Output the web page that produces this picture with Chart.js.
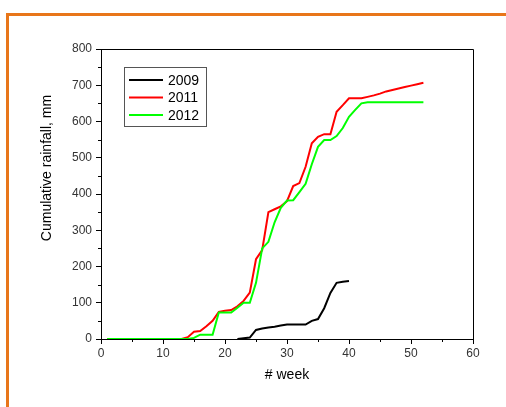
<!DOCTYPE html>
<html><head><meta charset="utf-8">
<script src="https://cdn.jsdelivr.net/npm/chart.js@4"></script>
<style>
html,body{margin:0;padding:0;background:#fff;width:506px;height:407px;overflow:hidden}
#frame{position:absolute;left:6px;top:13px;width:620px;height:520px;border-left:3px solid #E8761A;border-top:3px solid #E8761A}
#wrap{position:absolute;left:0;top:0;width:506px;height:407px}
</style></head><body>
<div id="frame"></div>
<div id="wrap"><canvas id="c" width="506" height="407"></canvas></div>
<script>
const weeks = [1,2,3,4,5,6,7,8,9,10,11,12,13,14,15,16,17,18,19,20,21,22,23,24,25,26,27,28,29,30,31,32,33,34,35,36,37,38,39,40,41,42,43,44,45,46,47,48,49,50,51,52];
const weeks2009 = [22,23,24,25,26,27,28,29,30,31,32,33,34,35,36,37,38,39,40];
const rain2009 = [0,2,4,25,29,32,34,37,40,40,40,40,50,55,85,127,155,158,160];
const rain2011 = [0,0,0,0,0,0,0,0,0,0,0,0,0,5,20,22,35,50,75,78,80,90,105,128,220,245,350,358,366,380,422,430,475,540,558,565,565,627,645,664,664,664,668,672,677,683,687,691,695,699,703,707];
const rain2012 = [0,0,0,0,0,0,0,0,0,0,0,0,0,0,3,12,12,12,73,73,73,86,100,100,155,250,268,322,362,382,383,405,428,482,530,549,549,560,582,613,632,650,653,653,653,653,653,653,653,653,653,653];
const seriesLabels = ['2009','2011','2012'];
const xTitle = '# week';
const yTitle = 'Cumulative rainfall, mm';

function toXY(xs, ys){ return xs.map((x,i)=>({x:x,y:ys[i]})); }

Chart.defaults.font.family = "'Liberation Sans', Arial, sans-serif";

const extras = {
  id:'extras',
  afterDraw(chart){
    const ctx = chart.ctx, ca = chart.chartArea;
    const xs = chart.scales.x, ys = chart.scales.y;
    ctx.save();
    ctx.strokeStyle = '#000'; ctx.lineWidth = 1;
    // top and right frame
    ctx.beginPath();
    ctx.moveTo(ca.left, Math.round(ca.top)+0.5);
    ctx.lineTo(Math.round(ca.right)+0.5, Math.round(ca.top)+0.5);
    ctx.lineTo(Math.round(ca.right)+0.5, ca.bottom);
    ctx.stroke();
    // minor ticks
    ctx.beginPath();
    const xt = xs.ticks.map(t=>t.value);
    for(let i=0;i<xt.length-1;i++){
      const px = Math.round(xs.getPixelForValue((xt[i]+xt[i+1])/2))+0.5;
      ctx.moveTo(px, ca.bottom); ctx.lineTo(px, ca.bottom+3);
    }
    const yt = ys.ticks.map(t=>t.value);
    for(let i=0;i<yt.length-1;i++){
      const py = Math.round(ys.getPixelForValue((yt[i]+yt[i+1])/2))+0.5;
      ctx.moveTo(ca.left, py); ctx.lineTo(ca.left-3, py);
    }
    ctx.stroke();
    // y title
    ctx.fillStyle = '#000';
    ctx.font = "14px 'Liberation Sans', Arial, sans-serif";
    ctx.textAlign = 'center'; ctx.textBaseline = 'middle';
    ctx.translate(47, 168); ctx.rotate(-Math.PI/2);
    ctx.fillText(yTitle, 0, 0);
    ctx.setTransform(1,0,0,1,0,0);
    // legend
    const L = Math.round(ca.left)+23, T = Math.round(ca.top)+18;
    ctx.strokeStyle = '#555'; ctx.lineWidth = 1;
    ctx.strokeRect(L+0.5, T+0.5, 82, 59);
    ctx.textAlign = 'left';
    chart.data.datasets.forEach((ds,i)=>{
      const y = T + 13 + i*17.5;
      ctx.strokeStyle = ds.borderColor; ctx.lineWidth = 2;
      ctx.beginPath(); ctx.moveTo(L+5, y); ctx.lineTo(L+39, y); ctx.stroke();
      ctx.fillStyle = '#000';
      ctx.fillText(ds.label, L+44, y+1);
    });
    ctx.restore();
  }
};

new Chart(document.getElementById('c'), {
  type:'line',
  data:{datasets:[
    {label:seriesLabels[0], data:toXY(weeks2009, rain2009), borderColor:'#000000', order:0},
    {label:seriesLabels[1], data:toXY(weeks, rain2011), borderColor:'#ff0000', order:2},
    {label:seriesLabels[2], data:toXY(weeks, rain2012), borderColor:'#00ff00', order:1}
  ]},
  options:{
    responsive:false, animation:false, devicePixelRatio:1,
    layout:{padding:{top:49,right:33,left:0,bottom:0}},
    elements:{point:{radius:0}, line:{borderWidth:2, tension:0, fill:false}},
    plugins:{legend:{display:false}, tooltip:{enabled:false}},
    scales:{
      x:{type:'linear', min:0, max:60,
        ticks:{stepSize:10, font:{size:12}, color:'#333', padding:2, maxRotation:0},
        grid:{drawOnChartArea:false, tickLength:5, tickColor:'#000', color:'#000'},
        border:{color:'#000', width:1},
        title:{display:true, text:xTitle, font:{size:14}, color:'#000', padding:{top:0,bottom:23}},
        afterFit(s){ s.height = 68; }
      },
      y:{type:'linear', min:0, max:800,
        ticks:{stepSize:100, font:{size:12}, color:'#333', padding:4},
        grid:{drawOnChartArea:false, tickLength:5, tickColor:'#000', color:'#000'},
        border:{color:'#000', width:1},
        afterFit(s){ s.width = 101; }
      }
    }
  },
  plugins:[extras]
});
</script>
</body></html>
